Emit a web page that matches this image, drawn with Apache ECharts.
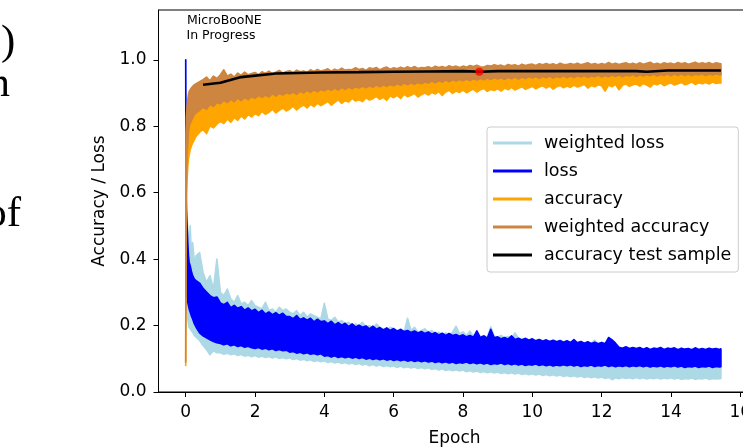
<!DOCTYPE html>
<html><head><meta charset="utf-8">
<script src="https://cdn.jsdelivr.net/npm/echarts@6/dist/echarts.min.js"></script>
<style>html,body{margin:0;padding:0;background:#fff}#c{width:743px;height:448px}</style>
</head><body><div id="c"></div>
<script>
// ---- data ----
const epochGrid = [0,0.01,0.02,0.04,0.06,0.08,0.1,0.13,0.16,0.2,0.25,0.3,
 0.4,0.5,0.6,0.7,0.8,0.9,
 1,1.1,1.2,1.3,1.4,1.5,1.6,1.7,1.8,1.9,
 2,2.1,2.2,2.3,2.4,2.5,2.6,2.7,2.8,2.9,
 3,3.1,3.2,3.3,3.4,3.5,3.6,3.7,3.8,3.9,
 4,4.1,4.2,4.3,4.4,4.5,4.6,4.7,4.8,4.9,
 5,5.1,5.2,5.3,5.4,5.5,5.6,5.7,5.8,5.9,
 6,6.1,6.2,6.3,6.4,6.5,6.6,6.7,6.8,6.9,
 7,7.1,7.2,7.3,7.4,7.5,7.6,7.7,7.8,7.9,
 8,8.1,8.2,8.3,8.4,8.5,8.6,8.7,8.8,8.9,
 9,9.1,9.2,9.3,9.4,9.5,9.6,9.7,9.8,9.9,
 10,10.1,10.2,10.3,10.4,10.5,10.6,10.7,10.8,10.9,
 11,11.1,11.2,11.3,11.4,11.5,11.6,11.7,11.8,11.9,
 12,12.1,12.2,12.3,12.4,12.5,12.6,12.7,12.8,12.9,
 13,13.1,13.2,13.3,13.4,13.5,13.6,13.7,13.8,13.9,
 14,14.1,14.2,14.3,14.4,14.5,14.6,14.7,14.8,14.9,
 15,15.1,15.2,15.3,15.4,15.44];

// weighted loss band (upper / lower envelope of the noisy curve)
const weightedLossHi = [1.0,0.60,0.56,0.52,0.49,0.46,0.44,0.50,0.42,0.45,0.39,0.41,
 0.42,0.36,0.33,0.35,0.31,0.40,
 0.30,0.29,0.31,0.28,0.27,0.29,0.265,0.27,0.26,0.275,
 0.26,0.255,0.25,0.27,0.245,0.25,0.24,0.255,0.245,0.25,
 0.24,0.235,0.245,0.23,0.24,0.225,0.235,0.23,0.225,0.22,
 0.267,0.22,0.215,0.225,0.21,0.215,0.205,0.21,0.20,0.205,
 0.20,0.21,0.195,0.20,0.19,0.205,0.195,0.19,0.185,0.195,
 0.19,0.185,0.19,0.18,0.222,0.185,0.195,0.18,0.185,0.19,
 0.18,0.185,0.175,0.18,0.172,0.178,0.17,0.18,0.198,0.175,
 0.181,0.17,0.183,0.168,0.175,0.166,0.17,0.165,0.196,0.168,
 0.165,0.17,0.163,0.167,0.16,0.178,0.162,0.158,0.163,0.157,
 0.16,0.155,0.158,0.154,0.156,0.152,0.155,0.151,0.154,0.15,
 0.153,0.149,0.152,0.148,0.151,0.147,0.15,0.146,0.156,0.145,
 0.149,0.145,0.164,0.152,0.14,0.132,0.13,0.133,0.129,0.132,
 0.128,0.13,0.127,0.13,0.126,0.129,0.127,0.13,0.126,0.129,
 0.127,0.13,0.125,0.129,0.126,0.128,0.124,0.129,0.126,0.128,
 0.125,0.129,0.126,0.128,0.125,0.127];
const weightedLossLo = [1.0,0.35,0.28,0.24,0.22,0.205,0.195,0.19,0.185,0.18,0.17,0.165,
 0.155,0.140,0.128,0.112,0.124,0.118,
 0.118,0.114,0.117,0.112,0.115,0.110,0.113,0.108,0.111,0.106,
 0.110,0.105,0.108,0.104,0.107,0.102,0.106,0.101,0.104,0.100,
 0.103,0.098,0.101,0.096,0.099,0.094,0.097,0.092,0.095,0.091,
 0.094,0.089,0.092,0.087,0.090,0.086,0.089,0.084,0.087,0.083,
 0.086,0.081,0.084,0.079,0.083,0.078,0.082,0.077,0.080,0.076,
 0.079,0.074,0.078,0.073,0.076,0.072,0.075,0.071,0.074,0.070,
 0.073,0.068,0.071,0.066,0.070,0.065,0.068,0.064,0.067,0.063,
 0.066,0.061,0.064,0.060,0.063,0.059,0.062,0.058,0.061,0.057,
 0.060,0.056,0.059,0.055,0.058,0.054,0.057,0.053,0.056,0.052,
 0.055,0.051,0.054,0.050,0.053,0.049,0.052,0.048,0.051,0.047,
 0.050,0.046,0.049,0.045,0.048,0.044,0.047,0.043,0.046,0.042,
 0.045,0.041,0.044,0.037,0.043,0.040,0.044,0.041,0.043,0.040,
 0.044,0.040,0.043,0.039,0.042,0.040,0.043,0.039,0.042,0.040,
 0.043,0.039,0.042,0.038,0.041,0.039,0.042,0.038,0.041,0.039,
 0.042,0.038,0.041,0.039,0.040,0.041];

// loss band
const lossHi = [1.0,0.62,0.55,0.50,0.45,0.41,0.39,0.38,0.365,0.35,0.34,0.335,
 0.328,0.312,0.301,0.290,0.284,0.286,
 0.268,0.263,0.270,0.254,0.261,0.252,0.257,0.246,0.253,0.244,
 0.249,0.239,0.246,0.235,0.241,0.233,0.239,0.231,0.237,0.227,
 0.227,0.221,0.230,0.218,0.223,0.216,0.222,0.211,0.219,0.212,
 0.214,0.206,0.213,0.202,0.209,0.201,0.207,0.197,0.205,0.196,
 0.201,0.195,0.199,0.190,0.198,0.189,0.194,0.187,0.193,0.185,
 0.191,0.183,0.188,0.182,0.185,0.179,0.184,0.178,0.182,0.176,
 0.181,0.174,0.179,0.172,0.177,0.170,0.176,0.170,0.173,0.168,
 0.172,0.166,0.170,0.165,0.184,0.164,0.169,0.162,0.189,0.163,
 0.166,0.160,0.164,0.159,0.169,0.158,0.162,0.157,0.161,0.156,
 0.160,0.154,0.158,0.153,0.157,0.152,0.156,0.151,0.155,0.150,
 0.154,0.149,0.158,0.148,0.152,0.147,0.151,0.146,0.150,0.145,
 0.149,0.145,0.164,0.157,0.147,0.135,0.132,0.136,0.131,0.134,
 0.131,0.134,0.129,0.133,0.128,0.132,0.130,0.134,0.128,0.132,
 0.130,0.133,0.127,0.132,0.129,0.131,0.127,0.133,0.128,0.131,
 0.128,0.132,0.129,0.131,0.128,0.130];
const lossLo = [1.0,0.40,0.33,0.29,0.27,0.26,0.25,0.24,0.23,0.22,0.205,0.195,
 0.178,0.169,0.163,0.157,0.152,0.148,
 0.146,0.142,0.145,0.139,0.142,0.137,0.140,0.135,0.138,0.133,
 0.131,0.134,0.129,0.132,0.127,0.130,0.125,0.128,0.124,0.126,
 0.120,0.122,0.117,0.120,0.115,0.118,0.114,0.116,0.112,0.115,
 0.108,0.110,0.105,0.109,0.104,0.107,0.103,0.106,0.102,0.105,
 0.101,0.104,0.099,0.102,0.098,0.101,0.097,0.100,0.096,0.099,
 0.095,0.098,0.094,0.097,0.093,0.096,0.092,0.095,0.091,0.094,
 0.090,0.093,0.089,0.092,0.088,0.091,0.087,0.090,0.086,0.089,
 0.087,0.090,0.086,0.089,0.085,0.088,0.084,0.087,0.083,0.086,
 0.084,0.087,0.083,0.086,0.082,0.085,0.081,0.084,0.080,0.083,
 0.081,0.084,0.080,0.083,0.079,0.082,0.078,0.081,0.079,0.082,
 0.079,0.082,0.078,0.081,0.077,0.080,0.078,0.081,0.077,0.080,
 0.078,0.081,0.077,0.080,0.076,0.079,0.077,0.080,0.076,0.079,
 0.077,0.080,0.076,0.079,0.075,0.078,0.076,0.079,0.075,0.078,
 0.076,0.079,0.075,0.078,0.074,0.077,0.075,0.078,0.074,0.077,
 0.075,0.078,0.074,0.077,0.075,0.076];

// accuracy band
const accHi = [0.08,0.70,0.78,0.82,0.84,0.855,0.865,0.875,0.88,0.89,0.895,0.90,
 0.915,0.92,0.925,0.922,0.93,0.928,
 0.932,0.94,0.935,0.938,0.934,0.942,0.938,0.944,0.94,0.943,
 0.945,0.942,0.947,0.944,0.949,0.946,0.948,0.951,0.947,0.95,
 0.951,0.948,0.953,0.95,0.954,0.951,0.955,0.952,0.956,0.953,
 0.955,0.958,0.954,0.957,0.956,0.959,0.955,0.958,0.957,0.96,
 0.958,0.96,0.957,0.961,0.959,0.962,0.958,0.961,0.963,0.96,
 0.961,0.96,0.963,0.961,0.964,0.962,0.965,0.961,0.964,0.963,
 0.964,0.962,0.966,0.964,0.965,0.963,0.967,0.965,0.966,0.964,
 0.966,0.965,0.968,0.966,0.969,0.967,0.965,0.968,0.967,0.97,
 0.968,0.969,0.967,0.971,0.969,0.97,0.968,0.972,0.97,0.971,
 0.972,0.97,0.973,0.971,0.974,0.972,0.973,0.971,0.975,0.972,
 0.972,0.974,0.973,0.975,0.972,0.974,0.976,0.973,0.975,0.972,
 0.975,0.973,0.977,0.974,0.976,0.973,0.975,0.976,0.974,0.976,
 0.973,0.976,0.974,0.976,0.977,0.974,0.976,0.973,0.977,0.975,
 0.976,0.974,0.977,0.975,0.977,0.974,0.976,0.978,0.975,0.977,
 0.975,0.977,0.974,0.977,0.976,0.975];
const accLo = [0.08,0.45,0.58,0.64,0.68,0.70,0.715,0.73,0.74,0.75,0.76,0.77,
 0.782,0.790,0.778,0.801,0.795,0.806,
 0.815,0.808,0.822,0.812,0.826,0.818,0.831,0.822,0.835,0.828,
 0.838,0.832,0.845,0.836,0.842,0.851,0.840,0.848,0.855,0.846,
 0.852,0.860,0.849,0.858,0.864,0.855,0.866,0.859,0.870,0.862,
 0.868,0.875,0.864,0.872,0.880,0.869,0.877,0.873,0.884,0.876,
 0.880,0.874,0.886,0.879,0.883,0.890,0.881,0.887,0.878,0.892,
 0.886,0.893,0.884,0.896,0.889,0.893,0.899,0.888,0.895,0.901,
 0.894,0.902,0.897,0.905,0.893,0.903,0.908,0.899,0.906,0.902,
 0.909,0.901,0.907,0.912,0.903,0.910,0.914,0.905,0.911,0.908,
 0.913,0.906,0.915,0.910,0.917,0.909,0.914,0.919,0.911,0.916,
 0.920,0.913,0.918,0.922,0.915,0.921,0.912,0.919,0.923,0.916,
 0.921,0.917,0.924,0.918,0.922,0.926,0.915,0.923,0.919,0.925,
 0.922,0.906,0.924,0.919,0.926,0.910,0.923,0.928,0.920,0.925,
 0.927,0.921,0.929,0.924,0.918,0.928,0.925,0.930,0.922,0.927,
 0.930,0.924,0.928,0.932,0.925,0.929,0.933,0.926,0.931,0.928,
 0.932,0.927,0.933,0.929,0.931,0.930];

// weighted accuracy band
const weightedAccHi = [0.09,0.78,0.83,0.86,0.88,0.895,0.905,0.91,0.915,0.92,0.925,0.928,
 0.934,0.940,0.948,0.937,0.951,0.944,
 0.955,0.970,0.951,0.957,0.948,0.960,0.953,0.963,0.955,0.959,
 0.962,0.955,0.964,0.959,0.966,0.958,0.963,0.968,0.960,0.965,
 0.967,0.961,0.969,0.964,0.966,0.962,0.970,0.965,0.971,0.966,
 0.969,0.973,0.966,0.972,0.968,0.975,0.969,0.971,0.970,0.976,
 0.971,0.974,0.968,0.976,0.973,0.977,0.970,0.975,0.978,0.972,
 0.976,0.973,0.978,0.974,0.979,0.975,0.980,0.974,0.977,0.976,
 0.979,0.975,0.981,0.977,0.980,0.976,0.982,0.978,0.981,0.977,
 0.981,0.978,0.983,0.980,0.984,0.979,0.978,0.983,0.981,0.985,
 0.982,0.984,0.980,0.986,0.983,0.985,0.981,0.987,0.983,0.986,
 0.987,0.983,0.988,0.985,0.989,0.985,0.988,0.984,0.990,0.986,
 0.986,0.989,0.986,0.990,0.985,0.988,0.991,0.986,0.989,0.985,
 0.989,0.986,0.992,0.987,0.990,0.986,0.989,0.991,0.987,0.990,
 0.986,0.991,0.987,0.990,0.993,0.987,0.990,0.986,0.991,0.988,
 0.990,0.987,0.992,0.988,0.991,0.987,0.990,0.993,0.988,0.991,
 0.988,0.992,0.987,0.991,0.989,0.988];
const weightedAccLo = [0.09,0.40,0.62,0.72,0.75,0.78,0.80,0.81,0.815,0.825,0.835,0.84,
 0.848,0.858,0.851,0.866,0.860,0.871,
 0.868,0.878,0.871,0.881,0.874,0.885,0.877,0.887,0.880,0.889,
 0.884,0.893,0.887,0.894,0.888,0.898,0.891,0.899,0.894,0.901,
 0.897,0.903,0.896,0.906,0.900,0.908,0.902,0.910,0.904,0.911,
 0.907,0.913,0.908,0.915,0.909,0.917,0.911,0.918,0.913,0.919,
 0.915,0.921,0.916,0.922,0.917,0.924,0.919,0.925,0.920,0.926,
 0.922,0.928,0.923,0.930,0.925,0.931,0.926,0.932,0.928,0.933,
 0.930,0.936,0.931,0.937,0.933,0.939,0.934,0.940,0.936,0.941,
 0.937,0.942,0.938,0.943,0.939,0.944,0.940,0.945,0.941,0.946,
 0.942,0.946,0.941,0.947,0.943,0.948,0.942,0.948,0.944,0.949,
 0.945,0.950,0.944,0.950,0.946,0.951,0.945,0.950,0.947,0.952,
 0.946,0.951,0.947,0.952,0.948,0.953,0.947,0.952,0.949,0.954,
 0.948,0.953,0.949,0.954,0.950,0.955,0.949,0.954,0.951,0.956,
 0.950,0.955,0.951,0.956,0.952,0.957,0.951,0.956,0.953,0.957,
 0.952,0.957,0.953,0.958,0.953,0.958,0.952,0.957,0.954,0.958,
 0.953,0.957,0.954,0.958,0.955,0.955];

// accuracy on the test sample
const testEpochs = [0.5,1.0,1.6,2.6,3.9,5.0,6.0,7.0,8.0,8.5,9.0,10.0,11.0,12.0,13.0,13.3,13.9,15.0,15.44];
const testAcc    = [0.925,0.931,0.948,0.959,0.962,0.963,0.964,0.965,0.966,0.964,0.966,0.966,0.966,0.966,0.966,0.964,0.968,0.968,0.968];
const bestEpoch = [8.47];
const bestAcc = [0.964];

const xTicks = [0,2,4,6,8,10,12,14,16];
const yTicks = [0,0.2,0.4,0.6,0.8,1.0];
const seriesNames = ['weighted loss','loss','accuracy','weighted accuracy','accuracy test sample'];

[weightedLossHi,weightedLossLo,lossHi,lossLo,accHi,accLo,weightedAccHi,weightedAccLo].forEach((a,i)=>{
  if (a.length !== epochGrid.length) throw new Error('array '+i+' length '+a.length+' vs '+epochGrid.length);
});

// ---- chart ----
const FONT = 'DejaVu Sans';
function band(name, color, hi, lo) {
  const pts = [];
  for (let i = 0; i < epochGrid.length; i++) pts.push([epochGrid[i], hi[i]]);
  for (let i = epochGrid.length - 1; i >= 0; i--) pts.push([epochGrid[i], lo[i]]);
  return {
    name: name, type: 'custom', coordinateSystem: 'cartesian2d',
    itemStyle: { color: color }, silent: true,
    encode: { x: 0, y: 1 },
    data: pts,
    renderItem: function (params, api) {
      if (params.dataIndex !== 0) return null;
      const points = pts.map(function (p) { return api.coord(p); });
      return { type: 'polygon', shape: { points: points },
        style: { fill: color, stroke: color, lineWidth: 1.6, lineJoin: 'round' } };
    }
  };
}

const chart = echarts.init(document.getElementById('c'), null, { renderer: 'canvas' });
chart.setOption({
  animation: false,
  backgroundColor: '#ffffff',
  textStyle: { fontFamily: FONT },
  grid: { left: 158.5, top: 10, width: 592.2, height: 382, show: true, borderColor: '#000', borderWidth: 1,
          containLabel: false, outerBoundsMode: 'none' },
  xAxis: {
    type: 'value', min: -0.785, max: 16.3,
    name: 'Epoch', nameLocation: 'middle', nameGap: 38,
    nameTextStyle: { fontFamily: FONT, fontSize: 17, color: '#000' },
    axisLine: { show: true, onZero: false, lineStyle: { color: '#000', width: 1 } },
    axisTick: { show: true, length: 5, lineStyle: { color: '#000' }, customValues: xTicks },
    axisLabel: { fontFamily: FONT, fontSize: 17, color: '#000', margin: 12, customValues: xTicks,
      formatter: function (v) { return String(v); } },
    splitLine: { show: false }
  },
  yAxis: {
    type: 'value', min: 0, max: 1.15,
    name: 'Accuracy / Loss', nameLocation: 'middle', nameGap: 50, nameRotate: 90,
    nameTextStyle: { fontFamily: FONT, fontSize: 17, color: '#000' },
    axisLine: { show: true, onZero: false, lineStyle: { color: '#000', width: 1 } },
    axisTick: { show: true, length: 5, lineStyle: { color: '#000' }, customValues: yTicks },
    axisLabel: { fontFamily: FONT, fontSize: 17, color: '#000', margin: 12, customValues: yTicks,
      formatter: function (v) { return v.toFixed(1); } },
    splitLine: { show: false }
  },
  legend: {
    orient: 'vertical', left: 487, top: 127,
    itemWidth: 39, itemHeight: 3, itemGap: 0, icon: 'rect',
    padding: [2, 7, 3, 6],
    backgroundColor: 'rgba(255,255,255,0.8)', borderColor: '#cccccc', borderWidth: 1, borderRadius: 3,
    selectedMode: false,
    textStyle: { fontFamily: FONT, fontSize: 17.5, color: '#000', lineHeight: 28, padding: [0, 0, 0, 7] },
    data: seriesNames
  },
  graphic: [
    { type: 'text', x: 187, y: 21, silent: true, style: { text: 'MicroBooNE', font: '12.5px "DejaVu Sans"', fill: '#000', textAlign: 'left', textVerticalAlign: 'middle' } },
    { type: 'text', x: 186.5, y: 35.5, silent: true, style: { text: 'In Progress', font: '12.5px "DejaVu Sans"', fill: '#000', textAlign: 'left', textVerticalAlign: 'middle' } },
    { type: 'text', x: 15.4, y: 43, silent: true, style: { text: ')', font: '43px "Liberation Serif"', fill: '#000', textAlign: 'right', textVerticalAlign: 'middle' } },
    { type: 'text', x: 10, y: 85, silent: true, style: { text: 'n', font: '43px "Liberation Serif"', fill: '#000', textAlign: 'right', textVerticalAlign: 'middle' } },
    { type: 'text', x: 21, y: 215, silent: true, style: { text: 'of', font: '43px "Liberation Serif"', fill: '#000', textAlign: 'right', textVerticalAlign: 'middle' } }
  ],
  series: [
    band(seriesNames[0], '#add8e6', weightedLossHi, weightedLossLo),
    band(seriesNames[1], '#0000ff', lossHi, lossLo),
    band(seriesNames[2], '#ffa500', accHi, accLo),
    band(seriesNames[3], '#cd853f', weightedAccHi, weightedAccLo),
    {
      name: seriesNames[4], type: 'line', showSymbol: false, symbol: 'none',
      itemStyle: { color: '#000000' },
      lineStyle: { color: '#000000', width: 2.6 },
      data: testEpochs.map(function (e, i) { return [e, testAcc[i]]; })
    },
    {
      name: 'best', type: 'scatter', symbolSize: 8, itemStyle: { color: '#ff0000' }, z: 5,
      data: bestEpoch.map(function (e, i) { return [e, bestAcc[i]]; })
    }
  ]
});
</script></body></html>
